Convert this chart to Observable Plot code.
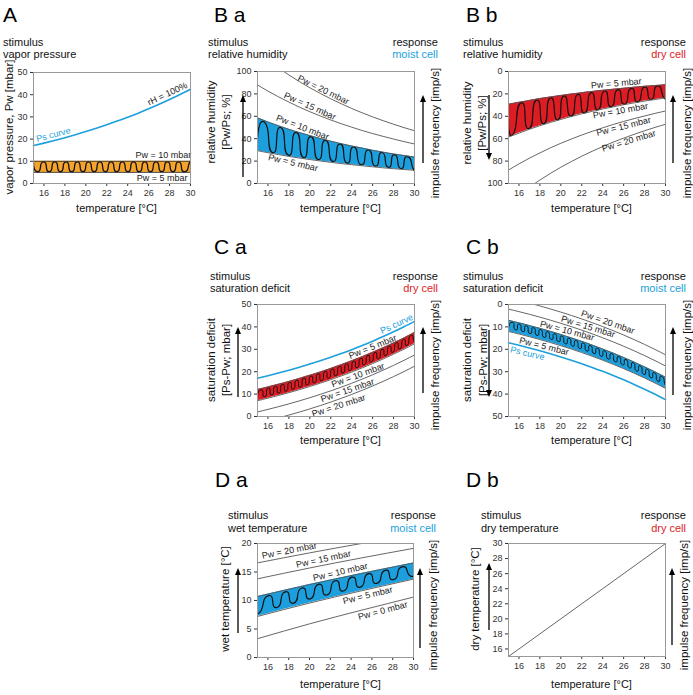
<!DOCTYPE html>
<html><head><meta charset="utf-8">
<script src="https://cdn.jsdelivr.net/npm/d3@7"></script>
<script src="https://cdn.jsdelivr.net/npm/@observablehq/plot@0.6"></script>
<style>
body{margin:0;background:#fff;}
#page{position:relative;width:693px;height:695px;overflow:hidden;background:#fff;}
.panel{position:absolute;}
#overlay{position:absolute;left:0;top:0;pointer-events:none;z-index:2;}
</style></head><body><div id="page"></div>
<script>
// ---------- data ----------
const temps = [15,16,17,18,19,20,21,22,23,24,25,26,27,28,29,30];
const psCurve = [17.05,18.18,19.38,20.64,21.98,23.39,24.88,26.45,28.10,29.85,31.69,33.63,35.67,37.82,40.07,42.45];
const aBandT = [15, 30];
const aPw5 = [5, 5];
const aPw10 = [10, 10];

const rhPw5  = [29.3,27.5,25.8,24.2,22.7,21.4,20.1,18.9,17.8,16.8,15.8,14.9,14.0,13.2,12.5,11.8];
const rhPw10 = [58.6,55.0,51.6,48.4,45.5,42.8,40.2,37.8,35.6,33.5,31.6,29.7,28.0,26.4,25.0,23.6];
const rhPw15 = [88.0,82.5,77.4,72.7,68.2,64.1,60.3,56.7,53.4,50.3,47.3,44.6,42.1,39.7,37.4,35.3];
const rhPw20 = [117.3,110.0,103.2,96.9,91.0,85.5,80.4,75.6,71.2,67.0,63.1,59.5,56.1,52.9,49.9,47.1];

const sdPw5  = [12.05,13.18,14.38,15.64,16.98,18.39,19.88,21.45,23.10,24.85,26.69,28.63,30.67,32.82,35.07,37.45];
const sdPw10 = [7.05,8.18,9.38,10.64,11.98,13.39,14.88,16.45,18.10,19.85,21.69,23.63,25.67,27.82,30.07,32.45];
const sdPw15 = [2.05,3.18,4.38,5.64,6.98,8.39,9.88,11.45,13.10,14.85,16.69,18.63,20.67,22.82,25.07,27.45];
const sdPw20 = [-2.95,-1.82,-0.62,0.64,1.98,3.39,4.88,6.45,8.10,9.85,11.69,13.63,15.67,17.82,20.07,22.45];

const wetT = [15, 20, 25, 30];
const wtPw0  = [3.3, 5.9, 8.3, 10.6];
const wtPw5  = [7.2, 9.55, 11.7, 13.75];
const wtPw10 = [10.7, 12.8, 14.75, 16.6];
const wtPw15 = [13.8, 15.7, 17.47, 19.15];
const wtPw20 = [16.6, 18.35, 20.0, 21.5];

const dryT = [15, 30];
const dryTemp = [15, 30];

// impulse waves (turning points)
const waveAT = [15,15.42,15.96,16.50,17.04,17.57,18.11,18.65,19.19,19.72,20.26,20.80,21.34,21.87,22.41,22.95,23.49,24.02,24.56,25.10,25.64,26.17,26.71,27.25,27.79,28.32,28.86,29.40,29.94,30];
const waveAV = [9.3,5.3,9.7,5.3,9.7,5.3,9.7,5.3,9.7,5.3,9.7,5.3,9.7,5.3,9.7,5.3,9.7,5.3,9.7,5.3,9.7,5.3,9.7,5.3,9.7,5.3,9.7,5.3,9.7,9.6];

const waveBaT = [15,15.7,16.45,17.2,17.95,18.7,19.4,20.1,20.8,21.5,22.2,22.9,23.55,24.2,24.9,25.6,26.25,26.9,27.5,28.1,28.7,29.3,29.9,30];
const waveBaV = [40,54.5,27.5,50,25.3,45.6,23.2,41.9,21.4,38.5,19.7,35.4,18.2,32.7,16.8,30.0,15.5,27.7,14.4,25.8,13.4,24.0,12.6,13.5];

const waveBbT = [15,15.45,16.21,16.94,17.68,18.37,19.01,19.71,20.29,20.99,21.62,22.26,22.90,23.53,24.17,24.81,25.44,26.08,26.72,27.35,27.99,28.63,29.21,29.84,30];
const waveBbV = [43,55.8,28.0,51,25.6,46.8,23.7,43.1,21.9,39.9,20.3,36.9,18.8,34.2,17.4,31.6,16.2,29.3,15.0,27.1,13.9,25.0,12.9,23.3,22.5];

const waveCT = [15,15.35,15.69,16.03,16.37,16.71,17.05,17.39,17.73,18.07,18.41,18.75,19.09,19.43,19.77,20.11,20.45,20.79,21.13,21.47,21.81,22.15,22.49,22.83,23.17,23.51,23.85,24.19,24.53,24.87,25.21,25.55,25.89,26.23,26.57,26.91,27.25,27.59,27.93,28.27,28.61,28.95,29.29,29.63,29.97,30];
const waveCaV = [8.9,11.95,8.83,12.72,9.62,13.53,10.44,14.37,11.30,15.23,12.19,16.15,13.11,17.09,14.07,18.05,15.06,19.07,16.08,20.12,17.15,21.20,18.26,22.32,19.40,23.49,20.59,24.70,21.83,25.95,23.10,27.26,24.42,28.60,25.79,29.99,27.21,31.44,28.67,32.93,30.19,34.46,31.76,36.07,33.38,33.6];
const waveCbV = [11.2,7.95,11.33,8.72,12.12,9.53,12.94,10.37,13.80,11.23,14.69,12.15,15.61,13.09,16.57,14.05,17.56,15.07,18.58,16.12,19.65,17.20,20.76,18.32,21.90,19.49,23.09,20.70,24.33,21.95,25.60,23.26,26.92,24.60,28.29,25.99,29.71,27.44,31.17,28.93,32.69,30.46,34.26,32.07,35.88,35.7];

const waveDaT = [15,15.26,16.06,16.86,17.66,18.46,19.26,20.06,20.87,21.67,22.47,23.27,24.07,24.87,25.67,26.47,27.28,28.08,28.88,29.68,30];
const waveDaV = [8.6,8.02,10.85,8.77,11.52,9.53,12.19,10.28,12.84,10.97,13.46,11.66,14.09,12.34,14.7,13.0,15.29,13.66,15.89,14.32,14.9];

// tick labels
const xTicks = [16,18,20,22,24,26,28,30];
const yTicksA = [0,10,20,30,40,50];
const yTicksRH = [0,20,40,60,80,100];
const yTicksSD = [0,10,20,30,40,50];
const yTicksWet = [0,5,10,15,20];
const yTicksDry = [16,18,20,22,24,26,28,30];

// curve labels
const labelsA = [
  {t:27.8, v:40.4, r:-25, s:"rH = 100%", c:"#222"},
  {t:16.9, v:22.0, r:-15, s:"Ps curve", c:"blue"},
  {t:27.4, v:12.6, r:0, s:"Pw = 10 mbar", c:"#222"},
  {t:27.3, v:2.4, r:0, s:"Pw = 5 mbar", c:"#222"}
];
const labelsBa = [
  {t:21.3, v:83.5, r:26, s:"Pw = 20 mbar"},
  {t:20.0, v:69.0, r:24, s:"Pw = 15 mbar"},
  {t:19.3, v:50.0, r:21, s:"Pw = 10 mbar"},
  {t:18.4, v:18.5, r:13, s:"Pw = 5 mbar"}
];
const labelsBb = [
  {t:25.3, v:10.6, r:-5, s:"Pw = 5 mbar"},
  {t:25.7, v:35.0, r:-10, s:"Pw = 10 mbar"},
  {t:26.0, v:49.0, r:-14, s:"Pw = 15 mbar"},
  {t:26.5, v:62.0, r:-17, s:"Pw = 20 mbar"}
];
const labelsCa = [
  {t:28.3, v:41.3, r:-25, s:"Ps curve", c:"blue"},
  {t:26.0, v:31.1, r:-22, s:"Pw = 5 mbar"},
  {t:24.6, v:18.45, r:-20, s:"Pw = 10 mbar"},
  {t:23.6, v:11.65, r:-19, s:"Pw = 15 mbar"},
  {t:22.75, v:4.8, r:-18, s:"Pw = 20 mbar"}
];
const labelsCb = [
  {t:24.5, v:7.9, r:19, s:"Pw = 20 mbar"},
  {t:22.6, v:9.9, r:17, s:"Pw = 15 mbar"},
  {t:20.6, v:11.75, r:15, s:"Pw = 10 mbar"},
  {t:18.4, v:18.7, r:14, s:"Pw = 5 mbar"},
  {t:16.8, v:21.8, r:13, s:"Ps curve", c:"blue"}
];
const labelsDa = [
  {t:18.05, v:18.75, r:-11, s:"Pw = 20 mbar"},
  {t:21.35, v:17.25, r:-12, s:"Pw = 15 mbar"},
  {t:22.96, v:15.0, r:-13, s:"Pw = 10 mbar"},
  {t:25.6, v:10.9, r:-14, s:"Pw = 5 mbar"},
  {t:27.05, v:8.2, r:-15, s:"Pw = 0 mbar"}
];

// ---------- styling ----------
const BLUE = "#1c9fdc", RED = "#dd1c24", ORANGE = "#f4a42c", GRAY = "#555", TXT = "#111";
const FONT = '"Liberation Sans", Arial, Helvetica, sans-serif';
const M = {l: 30, r: 6, t: 6, b: 24};
const page = document.getElementById("page");

const pairs = (a, b) => a.map((v, i) => [v, b[i]]);
const band = (xs, lo, hi) => xs.map((v, i) => ({t: v, lo: lo[i], hi: hi[i]}));
const pwLine = (xs, ys, extra = {}) => Plot.line(pairs(xs, ys), {curve: "natural", stroke: GRAY, strokeWidth: 0.9, clip: true, ...extra});
const wave = (xs, ys, w = 1.2, tension = -1.6) => Plot.line(pairs(xs, ys), {curve: "cardinal", tension, stroke: "#111", strokeWidth: w, clip: true});
const labels = (arr) => Plot.text(arr, {x: "t", y: "v", text: "s", rotate: "r", fill: d => d.c === "blue" ? BLUE : "#222", fontSize: 9, fontFamily: FONT});

function panel(box, y, marks) {
  const chart = Plot.plot({
    width: box.w + M.l + M.r, height: box.h + M.t + M.b,
    marginLeft: M.l, marginRight: M.r, marginTop: M.t, marginBottom: M.b,
    style: {fontFamily: FONT, fontSize: "9px", color: "#333", background: "transparent", overflow: "visible"},
    x: {domain: [15, 30], ticks: xTicks, tickSize: 3, tickPadding: 3, label: null},
    y: {...y, tickSize: 3, tickPadding: 3, label: null},
    marks: [...marks, Plot.frame({stroke: "#999", strokeWidth: 1})]
  });
  const div = document.createElement("div");
  div.className = "panel";
  div.style.left = (box.x - M.l) + "px";
  div.style.top = (box.y - M.t) + "px";
  div.appendChild(chart);
  page.appendChild(div);
}

// A
panel({x: 33, y: 72, w: 157, h: 111}, {domain: [0, 50], ticks: yTicksA}, [
  Plot.areaY(band(aBandT, aPw5, aPw10), {x: "t", y1: "lo", y2: "hi", fill: ORANGE}),
  wave(waveAT, waveAV, 1.3, -1.8),
  pwLine(aBandT, aPw5, {stroke: "#333"}), pwLine(aBandT, aPw10, {stroke: "#333"}),
  Plot.line(pairs(temps, psCurve), {curve: "natural", stroke: BLUE, strokeWidth: 1.6}),
  labels(labelsA)
]);
// B a
panel({x: 257, y: 71, w: 157, h: 112}, {domain: [0, 100], ticks: yTicksRH}, [
  Plot.areaY(band(temps, rhPw5, rhPw10), {x: "t", y1: "lo", y2: "hi", fill: BLUE, curve: "natural"}),
  wave(waveBaT, waveBaV, 1.2, -1.6),
  pwLine(temps, rhPw5), pwLine(temps, rhPw10), pwLine(temps, rhPw15), pwLine(temps, rhPw20),
  labels(labelsBa)
]);
// B b
panel({x: 508, y: 71, w: 157, h: 112}, {domain: [0, 100], reverse: true, ticks: yTicksRH}, [
  Plot.areaY(band(temps, rhPw5, rhPw10), {x: "t", y1: "lo", y2: "hi", fill: RED, curve: "natural"}),
  wave(waveBbT, waveBbV, 1.2, -1.6),
  pwLine(temps, rhPw5), pwLine(temps, rhPw10), pwLine(temps, rhPw15), pwLine(temps, rhPw20),
  labels(labelsBb)
]);
// C a
panel({x: 257, y: 304, w: 157, h: 112}, {domain: [0, 50], ticks: yTicksSD}, [
  Plot.areaY(band(temps, sdPw10, sdPw5), {x: "t", y1: "lo", y2: "hi", fill: RED, curve: "natural"}),
  wave(waveCT, waveCaV, 1.0, -2.2),
  pwLine(temps, sdPw5), pwLine(temps, sdPw10), pwLine(temps, sdPw15), pwLine(temps, sdPw20),
  Plot.line(pairs(temps, psCurve), {curve: "natural", stroke: BLUE, strokeWidth: 1.6}),
  labels(labelsCa)
]);
// C b
panel({x: 508, y: 304, w: 157, h: 112}, {domain: [0, 50], reverse: true, ticks: yTicksSD}, [
  Plot.areaY(band(temps, sdPw10, sdPw5), {x: "t", y1: "lo", y2: "hi", fill: BLUE, curve: "natural"}),
  wave(waveCT, waveCbV, 1.0, -2.2),
  pwLine(temps, sdPw5), pwLine(temps, sdPw10), pwLine(temps, sdPw15), pwLine(temps, sdPw20),
  Plot.line(pairs(temps, psCurve), {curve: "natural", stroke: BLUE, strokeWidth: 1.6}),
  labels(labelsCb)
]);
// D a
panel({x: 257, y: 543, w: 156, h: 114}, {domain: [0, 20], ticks: yTicksWet}, [
  Plot.areaY(band(wetT, wtPw5, wtPw10), {x: "t", y1: "lo", y2: "hi", fill: BLUE, curve: "natural"}),
  wave(waveDaT, waveDaV, 1.2, -1.6),
  pwLine(wetT, wtPw0), pwLine(wetT, wtPw5), pwLine(wetT, wtPw10), pwLine(wetT, wtPw15), pwLine(wetT, wtPw20),
  labels(labelsDa)
]);
// D b
panel({x: 508, y: 543, w: 157, h: 113}, {domain: [15, 30], ticks: yTicksDry}, [
  Plot.line(pairs(dryT, dryTemp), {stroke: GRAY, strokeWidth: 0.9})
]);

// ---------- overlay texts & arrows ----------
const NS = "http://www.w3.org/2000/svg";
const ov = document.createElementNS(NS, "svg");
ov.setAttribute("id", "overlay"); ov.setAttribute("width", 693); ov.setAttribute("height", 695);
page.appendChild(ov);
function txt(x, y, s, o = {}) {
  const e = document.createElementNS(NS, "text");
  e.setAttribute("x", x); e.setAttribute("y", y);
  e.setAttribute("font-family", FONT);
  e.setAttribute("font-size", o.size || 11);
  e.setAttribute("fill", o.fill || TXT);
  if (o.anchor) e.setAttribute("text-anchor", o.anchor);
  if (o.rot) { e.setAttribute("transform", `rotate(${o.rot} ${x} ${y})`); e.setAttribute("dominant-baseline", "central"); e.setAttribute("text-anchor", "middle"); }
  e.textContent = s; ov.appendChild(e);
}
function arrow(x, y1, y2) {
  const dir = y2 < y1 ? -1 : 1, hl = 7, hw = 3;
  const l = document.createElementNS(NS, "line");
  l.setAttribute("x1", x); l.setAttribute("x2", x); l.setAttribute("y1", y1); l.setAttribute("y2", y2 - dir * hl);
  l.setAttribute("stroke", "#000"); l.setAttribute("stroke-width", 1.3); ov.appendChild(l);
  const p = document.createElementNS(NS, "path");
  p.setAttribute("d", `M${x},${y2} L${x - hw},${y2 - dir * hl} L${x + hw},${y2 - dir * hl} Z`);
  p.setAttribute("fill", "#000"); ov.appendChild(p);
}
// panel letters
[["A",3,22],["B a",214,22],["B b",466,22],["C a",214,254],["C b",466,254],["D a",215,487],["D b",466,487]]
  .forEach(([s,x,y]) => txt(x, y, s, {size: 21, fill: "#000"}));
// headers
txt(3, 46, "stimulus"); txt(3, 58, "vapor pressure");
txt(208, 46, "stimulus"); txt(208, 58, "relative humidity");
txt(438, 46, "response", {anchor: "end"}); txt(438, 58, "moist cell", {anchor: "end", fill: BLUE});
txt(463, 46, "stimulus"); txt(463, 58, "relative humidity");
txt(686, 46, "response", {anchor: "end"}); txt(686, 58, "dry cell", {anchor: "end", fill: RED});
txt(210, 280, "stimulus"); txt(210, 292, "saturation deficit");
txt(438, 280, "response", {anchor: "end"}); txt(438, 292, "dry cell", {anchor: "end", fill: RED});
txt(463, 280, "stimulus"); txt(463, 292, "saturation deficit");
txt(686, 280, "response", {anchor: "end"}); txt(686, 292, "moist cell", {anchor: "end", fill: BLUE});
txt(228, 519, "stimulus"); txt(228, 532, "wet temperature");
txt(436, 519, "response", {anchor: "end"}); txt(436, 532, "moist cell", {anchor: "end", fill: BLUE});
txt(481, 519, "stimulus"); txt(481, 532, "dry temperature");
txt(686, 519, "response", {anchor: "end"}); txt(686, 532, "dry cell", {anchor: "end", fill: RED});
// x labels
[[116.5,211.5],[340.5,211.5],[591.5,211.5],[340.5,444],[591.5,444],[340.5,688],[591.5,688]]
  .forEach(([x,y]) => txt(x, y, "temperature [°C]", {anchor: "middle"}));
// y labels
txt(9, 127, "vapor pressure, Pw [mbar]", {rot: -90, size: 11.5});
txt(211, 122, "relative humidity", {rot: -90, size: 11.5}); txt(226, 122, "[Pw/Ps; %]", {rot: -90, size: 11.5});
txt(466.5, 123, "relative humidity", {rot: -90, size: 11.5}); txt(482, 123, "[Pw/Ps; %]", {rot: -90, size: 11.5});
txt(211, 360, "saturation deficit", {rot: -90, size: 11.5}); txt(226, 360, "[Ps-Pw; mbar]", {rot: -90, size: 11.5});
txt(467, 360, "saturation deficit", {rot: -90, size: 11.5}); txt(482.5, 360, "[Ps-Pw; mbar]", {rot: -90, size: 11.5});
txt(225, 599, "wet temperature [°C]", {rot: -90, size: 11.5});
txt(475, 599, "dry temperature [°C]", {rot: -90, size: 11.5});
[[435,133],[687,133],[435,365],[687,365],[433,605],[684,605]]
  .forEach(([x,y]) => txt(x, y, "impulse frequency [imp/s]", {rot: -90, size: 11.5}));
// arrows
arrow(243, 177, 95); arrow(423, 163, 95);
arrow(489, 95, 160); arrow(673, 163, 95);
arrow(238, 397, 327); arrow(423, 393, 327);
arrow(489, 330, 397); arrow(673, 395, 327);
arrow(238, 633, 568); arrow(420, 648, 568);
arrow(489, 630, 563); arrow(672, 645, 568);
</script>
</body></html>
